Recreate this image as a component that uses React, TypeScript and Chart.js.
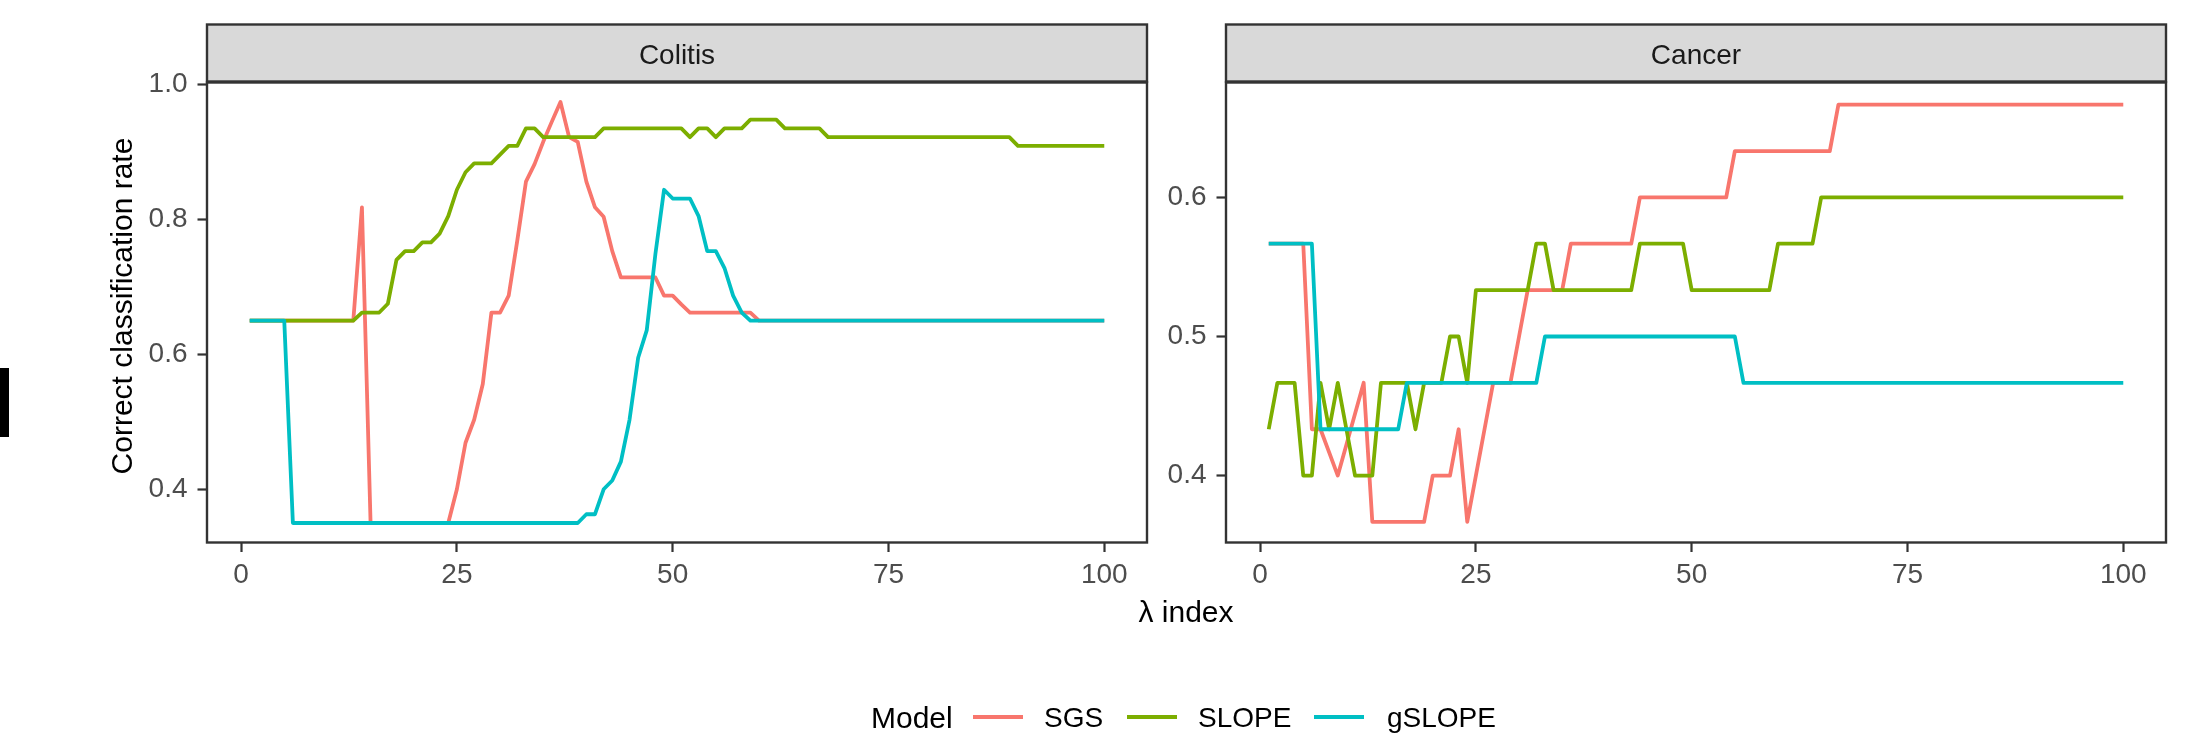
import React, { useEffect, useRef } from "react";
import { Chart, registerables } from "chart.js";

Chart.register(...registerables);

// ---------- data ----------
const lambdaIndex: number[] = Array.from({ length: 100 }, (_, k) => k + 1);
const xTicks = [0, 25, 50, 75, 100];
const colitisYTicks = [0.4, 0.6, 0.8, 1.0];
const cancerYTicks = [0.4, 0.5, 0.6];
const models = ["SGS", "SLOPE", "gSLOPE"];
const modelColors = ["#F8766D", "#7CAE00", "#00BFC4"];
const panelTitles = ["Colitis", "Cancer"];

const colitisSGS = [
  0.65, 0.65, 0.65, 0.65, 0.65, 0.65, 0.65, 0.65, 0.65, 0.65,
  0.65, 0.65, 0.65, 0.818, 0.35, 0.35, 0.35, 0.35, 0.35, 0.35,
  0.35, 0.35, 0.35, 0.35, 0.40, 0.469, 0.503, 0.556, 0.662, 0.662,
  0.687, 0.769, 0.856, 0.882, 0.915, 0.945, 0.974, 0.922, 0.915, 0.856,
  0.818, 0.804, 0.753, 0.714, 0.714, 0.714, 0.714, 0.714, 0.687, 0.687,
  0.674, 0.662, 0.662, 0.662, 0.662, 0.662, 0.662, 0.662, 0.662, 0.65,
  0.65, 0.65, 0.65, 0.65, 0.65, 0.65, 0.65, 0.65, 0.65, 0.65,
  0.65, 0.65, 0.65, 0.65, 0.65, 0.65, 0.65, 0.65, 0.65, 0.65,
  0.65, 0.65, 0.65, 0.65, 0.65, 0.65, 0.65, 0.65, 0.65, 0.65,
  0.65, 0.65, 0.65, 0.65, 0.65, 0.65, 0.65, 0.65, 0.65, 0.65,
];
const colitisSLOPE = [
  0.65, 0.65, 0.65, 0.65, 0.65, 0.65, 0.65, 0.65, 0.65, 0.65,
  0.65, 0.65, 0.65, 0.662, 0.662, 0.662, 0.675, 0.740, 0.753, 0.753,
  0.766, 0.766, 0.779, 0.805, 0.844, 0.870, 0.883, 0.883, 0.883, 0.896,
  0.909, 0.909, 0.935, 0.935, 0.922, 0.922, 0.922, 0.922, 0.922, 0.922,
  0.922, 0.935, 0.935, 0.935, 0.935, 0.935, 0.935, 0.935, 0.935, 0.935,
  0.935, 0.922, 0.935, 0.935, 0.922, 0.935, 0.935, 0.935, 0.948, 0.948,
  0.948, 0.948, 0.935, 0.935, 0.935, 0.935, 0.935, 0.922, 0.922, 0.922,
  0.922, 0.922, 0.922, 0.922, 0.922, 0.922, 0.922, 0.922, 0.922, 0.922,
  0.922, 0.922, 0.922, 0.922, 0.922, 0.922, 0.922, 0.922, 0.922, 0.909,
  0.909, 0.909, 0.909, 0.909, 0.909, 0.909, 0.909, 0.909, 0.909, 0.909,
];
const colitisGSLOPE = [
  0.65, 0.65, 0.65, 0.65, 0.65, 0.35, 0.35, 0.35, 0.35, 0.35,
  0.35, 0.35, 0.35, 0.35, 0.35, 0.35, 0.35, 0.35, 0.35, 0.35,
  0.35, 0.35, 0.35, 0.35, 0.35, 0.35, 0.35, 0.35, 0.35, 0.35,
  0.35, 0.35, 0.35, 0.35, 0.35, 0.35, 0.35, 0.35, 0.35, 0.363,
  0.363, 0.40, 0.413, 0.441, 0.503, 0.595, 0.636, 0.749, 0.844, 0.831,
  0.831, 0.831, 0.805, 0.753, 0.753, 0.728, 0.687, 0.662, 0.65, 0.65,
  0.65, 0.65, 0.65, 0.65, 0.65, 0.65, 0.65, 0.65, 0.65, 0.65,
  0.65, 0.65, 0.65, 0.65, 0.65, 0.65, 0.65, 0.65, 0.65, 0.65,
  0.65, 0.65, 0.65, 0.65, 0.65, 0.65, 0.65, 0.65, 0.65, 0.65,
  0.65, 0.65, 0.65, 0.65, 0.65, 0.65, 0.65, 0.65, 0.65, 0.65,
];

const cancerSGS = [
  0.5667, 0.5667, 0.5667, 0.5667, 0.5667, 0.4333, 0.4333, 0.4167, 0.4, 0.4222,
  0.4444, 0.4667, 0.3667, 0.3667, 0.3667, 0.3667, 0.3667, 0.3667, 0.3667, 0.4,
  0.4, 0.4, 0.4333, 0.3667, 0.4, 0.4333, 0.4667, 0.4667, 0.4667, 0.5,
  0.5333, 0.5333, 0.5333, 0.5333, 0.5333, 0.5667, 0.5667, 0.5667, 0.5667, 0.5667,
  0.5667, 0.5667, 0.5667, 0.6, 0.6, 0.6, 0.6, 0.6, 0.6, 0.6,
  0.6, 0.6, 0.6, 0.6, 0.6333, 0.6333, 0.6333, 0.6333, 0.6333, 0.6333,
  0.6333, 0.6333, 0.6333, 0.6333, 0.6333, 0.6333, 0.6667, 0.6667, 0.6667, 0.6667,
  0.6667, 0.6667, 0.6667, 0.6667, 0.6667, 0.6667, 0.6667, 0.6667, 0.6667, 0.6667,
  0.6667, 0.6667, 0.6667, 0.6667, 0.6667, 0.6667, 0.6667, 0.6667, 0.6667, 0.6667,
  0.6667, 0.6667, 0.6667, 0.6667, 0.6667, 0.6667, 0.6667, 0.6667, 0.6667, 0.6667,
];
const cancerSLOPE = [
  0.4333, 0.4667, 0.4667, 0.4667, 0.4, 0.4, 0.4667, 0.4333, 0.4667, 0.4333,
  0.4, 0.4, 0.4, 0.4667, 0.4667, 0.4667, 0.4667, 0.4333, 0.4667, 0.4667,
  0.4667, 0.5, 0.5, 0.4667, 0.5333, 0.5333, 0.5333, 0.5333, 0.5333, 0.5333,
  0.5333, 0.5667, 0.5667, 0.5333, 0.5333, 0.5333, 0.5333, 0.5333, 0.5333, 0.5333,
  0.5333, 0.5333, 0.5333, 0.5667, 0.5667, 0.5667, 0.5667, 0.5667, 0.5667, 0.5333,
  0.5333, 0.5333, 0.5333, 0.5333, 0.5333, 0.5333, 0.5333, 0.5333, 0.5333, 0.5667,
  0.5667, 0.5667, 0.5667, 0.5667, 0.6, 0.6, 0.6, 0.6, 0.6, 0.6,
  0.6, 0.6, 0.6, 0.6, 0.6, 0.6, 0.6, 0.6, 0.6, 0.6,
  0.6, 0.6, 0.6, 0.6, 0.6, 0.6, 0.6, 0.6, 0.6, 0.6,
  0.6, 0.6, 0.6, 0.6, 0.6, 0.6, 0.6, 0.6, 0.6, 0.6,
];
const cancerGSLOPE = [
  0.5667, 0.5667, 0.5667, 0.5667, 0.5667, 0.5667, 0.4333, 0.4333, 0.4333, 0.4333,
  0.4333, 0.4333, 0.4333, 0.4333, 0.4333, 0.4333, 0.4667, 0.4667, 0.4667, 0.4667,
  0.4667, 0.4667, 0.4667, 0.4667, 0.4667, 0.4667, 0.4667, 0.4667, 0.4667, 0.4667,
  0.4667, 0.4667, 0.5, 0.5, 0.5, 0.5, 0.5, 0.5, 0.5, 0.5,
  0.5, 0.5, 0.5, 0.5, 0.5, 0.5, 0.5, 0.5, 0.5, 0.5,
  0.5, 0.5, 0.5, 0.5, 0.5, 0.4667, 0.4667, 0.4667, 0.4667, 0.4667,
  0.4667, 0.4667, 0.4667, 0.4667, 0.4667, 0.4667, 0.4667, 0.4667, 0.4667, 0.4667,
  0.4667, 0.4667, 0.4667, 0.4667, 0.4667, 0.4667, 0.4667, 0.4667, 0.4667, 0.4667,
  0.4667, 0.4667, 0.4667, 0.4667, 0.4667, 0.4667, 0.4667, 0.4667, 0.4667, 0.4667,
  0.4667, 0.4667, 0.4667, 0.4667, 0.4667, 0.4667, 0.4667, 0.4667, 0.4667, 0.4667,
];

// ---------- style ----------
const FONT = "'Liberation Sans', Arial, Helvetica, sans-serif";
const TICK_COLOR = "#4D4D4D";
const FRAME = "#333333";
const STRIP_TOP = 24.5;
const AREA_TOP = 82.5;
const AREA_BOTTOM = 542.5;
const CANVAS_H = 740;
const X_AXIS_H = 60;

interface PanelSpec {
  title: string;
  series: number[][];
  yTicks: number[];
  yMin: number;
  yMax: number;
  canvasLeft: number;
  canvasWidth: number;
  areaLeft: number; // page px
  areaRight: number; // page px
  yTitle?: string;
}

function makePlugin(spec: PanelSpec) {
  return {
    id: "facetFrame" + spec.title,
    afterDraw(chart: any) {
      const ctx = chart.ctx as CanvasRenderingContext2D;
      const { left, right, top, bottom } = chart.chartArea;
      ctx.save();
      // strip
      ctx.fillStyle = "#D9D9D9";
      ctx.fillRect(left, STRIP_TOP, right - left, top - 1 - STRIP_TOP);
      ctx.strokeStyle = FRAME;
      ctx.lineWidth = 2.4;
      ctx.strokeRect(left, STRIP_TOP, right - left, top - 1 - STRIP_TOP);
      ctx.fillStyle = "#1A1A1A";
      ctx.font = `28px ${FONT}`;
      ctx.textAlign = "center";
      ctx.textBaseline = "alphabetic";
      ctx.fillText(spec.title, (left + right) / 2, 64);
      // panel border
      ctx.strokeRect(left, top, right - left, bottom - top);
      // y title
      if (spec.yTitle) {
        ctx.translate(132 - spec.canvasLeft, 306);
        ctx.rotate(-Math.PI / 2);
        ctx.fillStyle = "#000000";
        ctx.font = `30px ${FONT}`;
        ctx.textAlign = "center";
        ctx.fillText(spec.yTitle, 0, 0);
      }
      ctx.restore();
    },
  };
}

function makeConfig(spec: PanelSpec): any {
  const yWidth = spec.areaLeft - spec.canvasLeft;
  const padRight = spec.canvasLeft + spec.canvasWidth - spec.areaRight;
  const datasets = models.map((m, k) => ({
    label: m,
    data: lambdaIndex.map((x, j) => ({ x, y: spec.series[k][j] })),
    borderColor: modelColors[k],
    backgroundColor: modelColors[k],
    borderWidth: 3.8,
    pointRadius: 0,
    tension: 0,
    fill: false,
    borderCapStyle: "butt",
    borderJoinStyle: "round",
    order: models.length - k,
  }));
  const grid = {
    display: true,
    drawOnChartArea: false,
    drawTicks: true,
    tickLength: 9.5,
    tickWidth: 2.2,
    tickColor: FRAME,
    color: FRAME,
  };
  return {
    type: "line",
    data: { datasets },
    options: {
      animation: false,
      responsive: false,
      maintainAspectRatio: false,
      devicePixelRatio: 1,
      events: [],
      layout: {
        padding: {
          left: 0,
          top: AREA_TOP,
          right: padRight,
          bottom: CANVAS_H - AREA_BOTTOM - X_AXIS_H,
        },
      },
      plugins: { legend: { display: false }, tooltip: { enabled: false }, title: { display: false } },
      scales: {
        x: {
          type: "linear",
          min: -3.95,
          max: 104.95,
          afterBuildTicks: (s: any) => {
            s.ticks = xTicks.map((v) => ({ value: v }));
          },
          afterFit: (s: any) => {
            s.height = X_AXIS_H;
          },
          ticks: {
            autoSkip: false,
            maxRotation: 0,
            minRotation: 0,
            padding: 6,
            color: TICK_COLOR,
            font: { family: FONT, size: 28 },
            callback: (v: any) => String(v),
          },
          grid,
          border: { display: false },
        },
        y: {
          type: "linear",
          min: spec.yMin,
          max: spec.yMax,
          afterBuildTicks: (s: any) => {
            s.ticks = spec.yTicks.map((v) => ({ value: v }));
          },
          afterFit: (s: any) => {
            s.width = yWidth;
          },
          ticks: {
            autoSkip: false,
            padding: 10,
            color: TICK_COLOR,
            font: { family: FONT, size: 28 },
            callback: (v: any) => Number(v).toFixed(1),
          },
          grid,
          border: { display: false },
        },
      },
    },
    plugins: [makePlugin(spec)],
  };
}

const panels: PanelSpec[] = [
  {
    title: panelTitles[0],
    series: [colitisSGS, colitisSLOPE, colitisGSLOPE],
    yTicks: colitisYTicks,
    yMin: 0.3211,
    yMax: 1.003,
    canvasLeft: 0,
    canvasWidth: 1150,
    areaLeft: 207,
    areaRight: 1147,
    yTitle: "Correct classification rate",
  },
  {
    title: panelTitles[1],
    series: [cancerSGS, cancerSLOPE, cancerGSLOPE],
    yTicks: cancerYTicks,
    yMin: 0.3519,
    yMax: 0.6826,
    canvasLeft: 1150,
    canvasWidth: 1044,
    areaLeft: 1226,
    areaRight: 2166,
  },
];

function Panel({ spec }: { spec: PanelSpec }) {
  const ref = useRef<HTMLCanvasElement | null>(null);
  useEffect(() => {
    if (!ref.current) return;
    const chart = new Chart(ref.current, makeConfig(spec));
    return () => chart.destroy();
  }, [spec]);
  return (
    <canvas
      ref={ref}
      width={spec.canvasWidth}
      height={CANVAS_H}
      style={{
        position: "absolute",
        left: spec.canvasLeft,
        top: 0,
        width: spec.canvasWidth,
        height: CANVAS_H,
      }}
    />
  );
}

const legendKeys = [
  { left: 973, labelLeft: 1044 },
  { left: 1127, labelLeft: 1198 },
  { left: 1314, labelLeft: 1387 },
];

export default function App() {
  return (
    <div
      style={{
        position: "absolute",
        left: 0,
        top: 0,
        width: 2194,
        height: 740,
        background: "#FFFFFF",
        overflow: "hidden",
        fontFamily: FONT,
      }}
    >
      <div style={{ position: "absolute", left: 0, top: 368, width: 9, height: 69, background: "#000" }} />
      {panels.map((p) => (
        <Panel key={p.title} spec={p} />
      ))}
      <div
        style={{
          position: "absolute",
          left: 986,
          width: 400,
          top: 596.6,
          fontSize: 30,
          lineHeight: "30px",
          textAlign: "center",
          color: "#000",
          whiteSpace: "nowrap",
        }}
      >
        λ index
      </div>
      <div
        style={{
          position: "absolute",
          left: 871,
          top: 702.6,
          fontSize: 30,
          lineHeight: "30px",
          color: "#000",
          whiteSpace: "nowrap",
        }}
      >
        Model
      </div>
      {models.map((m, k) => (
        <React.Fragment key={m}>
          <div
            style={{
              position: "absolute",
              left: legendKeys[k].left,
              top: 715.2,
              width: 50,
              height: 3.8,
              background: modelColors[k],
            }}
          />
          <div
            style={{
              position: "absolute",
              left: legendKeys[k].labelLeft,
              top: 704.3,
              fontSize: 28,
              lineHeight: "28px",
              color: "#000",
              whiteSpace: "nowrap",
            }}
          >
            {m}
          </div>
        </React.Fragment>
      ))}
    </div>
  );
}
